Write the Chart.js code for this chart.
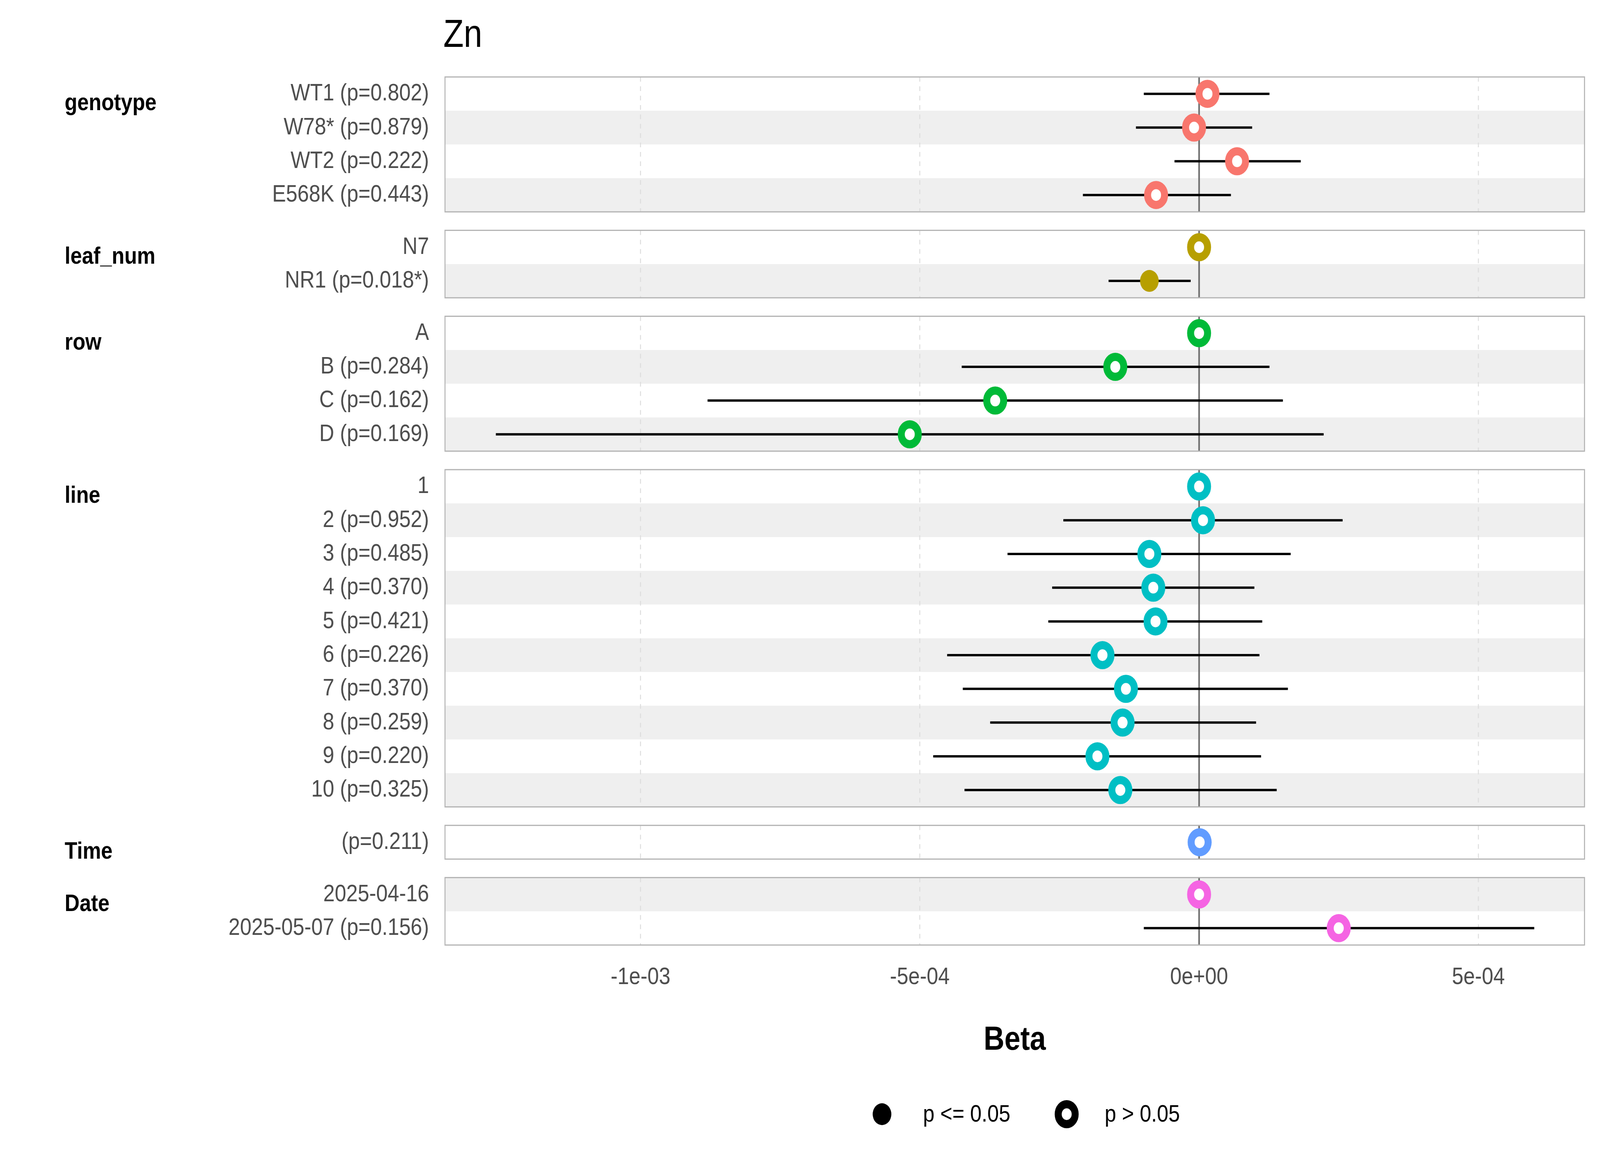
<!DOCTYPE html>
<html><head><meta charset="utf-8">
<script src="https://cdn.jsdelivr.net/npm/chart.js@4"></script>
<style>html,body{margin:0;padding:0;background:#fff;overflow:hidden}canvas{display:block}</style>
</head><body>
<canvas id="c" width="4800" height="3000" style="width:100vw;height:100vh"></canvas>
<script>
const groups = ['genotype','leaf_num','row','line','Time','Date'];
const groupColors = ['#F8766D','#B79F00','#00BA38','#00BFC4','#619CFF','#F564E3'];
const labels = [
 ['WT1 (p=0.802)','W78* (p=0.879)','WT2 (p=0.222)','E568K (p=0.443)'],
 ['N7','NR1 (p=0.018*)'],
 ['A','B (p=0.284)','C (p=0.162)','D (p=0.169)'],
 ['1','2 (p=0.952)','3 (p=0.485)','4 (p=0.370)','5 (p=0.421)','6 (p=0.226)','7 (p=0.370)','8 (p=0.259)','9 (p=0.220)','10 (p=0.325)'],
 ['(p=0.211)'],
 ['2025-04-16','2025-05-07 (p=0.156)']
];
const beta = [
 [1.5e-5,-9e-6,6.8e-5,-7.7e-5],
 [0,-8.9e-5],
 [0,-1.50e-4,-3.65e-4,-5.18e-4],
 [0,7e-6,-8.9e-5,-8.2e-5,-7.8e-5,-1.73e-4,-1.31e-4,-1.37e-4,-1.82e-4,-1.41e-4],
 [1e-6],
 [0,2.50e-4]
];
const lower = [
 [-9.9e-5,-1.13e-4,-4.4e-5,-2.08e-4],
 [null,-1.62e-4],
 [null,-4.25e-4,-8.80e-4,-1.259e-3],
 [null,-2.43e-4,-3.43e-4,-2.63e-4,-2.70e-4,-4.51e-4,-4.23e-4,-3.74e-4,-4.76e-4,-4.20e-4],
 [null],
 [null,-9.9e-5]
];
const upper = [
 [1.26e-4,9.5e-5,1.82e-4,5.7e-5],
 [null,-1.5e-5],
 [null,1.26e-4,1.50e-4,2.23e-4],
 [null,2.57e-4,1.64e-4,9.9e-5,1.13e-4,1.08e-4,1.59e-4,1.02e-4,1.11e-4,1.39e-4],
 [null],
 [null,6.0e-4]
];
const significant = [
 [false,false,false,false],[false,true],[false,false,false,false],
 [false,false,false,false,false,false,false,false,false,false],[false],[false,false]
];
const xTickValues = [-1e-3,-5e-4,0,5e-4];
const xTickLabels = ['-1e-03','-5e-04','0e+00','5e-04'];

const GAP = 0.548;
const panels = []; const rowPos = []; const allTicks = []; const tickLabel = {};
let cur = 0;
labels.forEach((ls,g)=>{
  const top = cur; const pos=[];
  ls.forEach((l,i)=>{ const y = cur+0.5+i; pos.push(y); allTicks.push(y); tickLabel[y.toFixed(4)] = l; });
  cur += ls.length; panels.push({top, bottom:cur}); rowPos.push(pos); cur += GAP;
});
const yMax = cur - GAP;

const FONT = '"Liberation Sans", Arial, sans-serif';
const datasets = groups.map((g,k)=>({
  label:g,
  data: beta[k].map((b,i)=>({x:b,y:rowPos[k][i]})),
  borderColor: groupColors[k],
  backgroundColor: ctx => significant[k][ctx.dataIndex] ? groupColors[k] : '#ffffff',
  pointRadius: ctx => significant[k][ctx.dataIndex] ? 28 : 25.5,
  pointBorderWidth: ctx => significant[k][ctx.dataIndex] ? 0 : 21,
  pointHoverRadius: 25.5
}));

const deco = {
  id:'deco',
  beforeDatasetsDraw(chart){
    const c = chart.ctx, xs = chart.scales.x, ys = chart.scales.y;
    const L = chart.chartArea.left, R = chart.chartArea.right;
    c.save();
    let idx = 0;
    panels.forEach((p,k)=>{
      const t = ys.getPixelForValue(p.top), b = ys.getPixelForValue(p.bottom);
      rowPos[k].forEach(y=>{
        if (idx%2===1){
          c.fillStyle='#EFEFEF';
          c.fillRect(L, ys.getPixelForValue(y-0.5), R-L, ys.getPixelForValue(y+0.5)-ys.getPixelForValue(y-0.5));
        }
        idx++;
      });
      c.strokeStyle='#DEDEDE'; c.lineWidth=3; c.setLineDash([12,12]);
      xTickValues.forEach(v=>{ if(v!==0){ const x=xs.getPixelForValue(v); c.beginPath(); c.moveTo(x,t); c.lineTo(x,b); c.stroke(); }});
      c.setLineDash([]);
      const x0 = xs.getPixelForValue(0);
      c.strokeStyle='#707070'; c.lineWidth=5; c.beginPath(); c.moveTo(x0,t); c.lineTo(x0,b); c.stroke();
    });
    c.strokeStyle='#000'; c.lineWidth=6;
    groups.forEach((g,k)=>{
      rowPos[k].forEach((y,i)=>{
        if (lower[k][i]===null) return;
        const py = ys.getPixelForValue(y);
        c.beginPath(); c.moveTo(xs.getPixelForValue(lower[k][i]),py); c.lineTo(xs.getPixelForValue(upper[k][i]),py); c.stroke();
      });
    });
    c.restore();
  },
  afterDraw(chart){
    const c = chart.ctx, ys = chart.scales.y;
    const L = chart.chartArea.left, R = chart.chartArea.right;
    c.save();
    c.strokeStyle='#B3B3B3'; c.lineWidth=3;
    panels.forEach(p=>{
      const t = ys.getPixelForValue(p.top), b = ys.getPixelForValue(p.bottom);
      c.strokeRect(L, t, R-L, b-t);
    });
    c.fillStyle='#000'; c.font='bold 62px '+FONT; c.textAlign='left'; c.textBaseline='middle';
    groups.forEach((g,k)=>{ c.fillText(g, 194, ys.getPixelForValue(rowPos[k][0])+25); });
    c.font='100px '+FONT; c.fillText('Zn', 1330, 92);
    const ly = 2852;
    c.fillStyle='#000'; c.beginPath(); c.arc(2646,ly,28,0,Math.PI*2); c.fill();
    c.strokeStyle='#000'; c.lineWidth=21; c.fillStyle='#fff'; c.beginPath(); c.arc(3200,ly,25.5,0,Math.PI*2); c.fill(); c.stroke();
    c.fillStyle='#000'; c.font='62px '+FONT;
    c.fillText('p <= 0.05', 2769, ly+2); c.fillText('p > 0.05', 3314, ly+2);
    c.restore();
  }
};

new Chart(document.getElementById('c'), {
  type:'scatter',
  data:{datasets},
  options:{
    responsive:false, animation:false, devicePixelRatio:1,
    layout:{padding:{left:0,right:25,top:197,bottom:281}},
    plugins:{legend:{display:false},tooltip:{enabled:false}},
    scales:{
      x:{
        min:-1.350e-3, max:6.9e-4,
        grid:{display:false}, border:{display:false},
        afterBuildTicks: s => { s.ticks = xTickValues.map(v=>({value:v})); },
        ticks:{ callback:(v)=>{ const i = xTickValues.indexOf(v); return i>=0?xTickLabels[i]:''; },
          font:{family:FONT,size:62}, color:'#4D4D4D', padding:38, maxRotation:0, autoSkip:false },
        title:{display:true, text:'Beta', font:{family:FONT,size:86,weight:'bold'}, color:'#000', padding:{top:6}},
        afterFit: s => { s.height = 300; }
      },
      y:{
        min:0, max:yMax, reverse:true,
        grid:{display:false}, border:{display:false},
        afterBuildTicks: s => { s.ticks = allTicks.map(v=>({value:v})); },
        ticks:{ callback:(v)=> tickLabel[Number(v).toFixed(4)] || '', autoSkip:false,
          font:{family:FONT,size:62}, color:'#4D4D4D', padding:40 },
        afterFit: s => { s.width = 1335; }
      }
    }
  },
  plugins:[deco]
});
</script>
</body></html>
